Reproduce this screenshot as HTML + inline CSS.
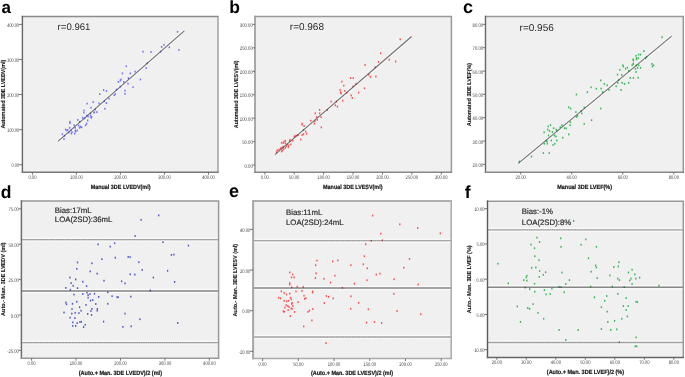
<!DOCTYPE html><html><head><meta charset="utf-8"><style>html,body{margin:0;padding:0;background:#fff;}svg{display:block;will-change:transform;}</style></head><body>
<svg xmlns="http://www.w3.org/2000/svg" width="685" height="377" viewBox="0 0 685 377" font-family='"Liberation Sans", sans-serif' text-rendering="geometricPrecision">
<rect width="685" height="377" fill="#fff"/>
<rect x="22.4" y="16.5" width="195.6" height="155.8" fill="#f0f0f0"/>
<text x="1.4" y="12.9" font-size="17.0" font-weight="bold" fill="#000">a</text>
<rect x="255.0" y="16.4" width="196.4" height="155.8" fill="#f0f0f0"/>
<text x="229.3" y="12.8" font-size="17.5" font-weight="bold" fill="#000">b</text>
<rect x="485.5" y="16.4" width="197.8" height="155.8" fill="#f0f0f0"/>
<text x="462.9" y="13.4" font-size="18.0" font-weight="bold" fill="#000">c</text>
<rect x="21.4" y="201.1" width="197.2" height="157.2" fill="#f0f0f0"/>
<text x="0.8" y="197.7" font-size="17.5" font-weight="bold" fill="#000">d</text>
<rect x="253.1" y="201.1" width="198.1" height="157.5" fill="#f0f0f0"/>
<text x="229.1" y="197.0" font-size="18.0" font-weight="bold" fill="#000">e</text>
<rect x="487.5" y="201.2" width="195.8" height="156.2" fill="#f0f0f0"/>
<text x="464.8" y="197.5" font-size="17.5" font-weight="bold" fill="#000">f</text>
<line x1="57.04" y1="140.42" x2="183.44" y2="29.82" stroke="#fff" stroke-width="0.7" stroke-opacity="0.7"/>
<line x1="58.76" y1="142.38" x2="185.16" y2="31.78" stroke="#fff" stroke-width="0.7" stroke-opacity="0.7"/>
<rect x="90.43" y="106.80" width="1.35" height="1.8" fill="#6c6cff"/>
<rect x="83.23" y="109.60" width="1.35" height="1.8" fill="#6c6cff"/>
<rect x="83.23" y="111.70" width="1.35" height="1.8" fill="#6c6cff"/>
<rect x="93.33" y="111.70" width="1.35" height="1.8" fill="#6c6cff"/>
<rect x="86.13" y="114.70" width="1.35" height="1.8" fill="#6c6cff"/>
<rect x="87.43" y="115.60" width="1.35" height="1.8" fill="#6c6cff"/>
<rect x="89.83" y="114.70" width="1.35" height="1.8" fill="#6c6cff"/>
<rect x="90.93" y="116.00" width="1.35" height="1.8" fill="#6c6cff"/>
<rect x="90.43" y="117.00" width="1.35" height="1.8" fill="#6c6cff"/>
<rect x="81.93" y="116.80" width="1.35" height="1.8" fill="#6c6cff"/>
<rect x="84.03" y="117.40" width="1.35" height="1.8" fill="#6c6cff"/>
<rect x="77.13" y="119.00" width="1.35" height="1.8" fill="#6c6cff"/>
<rect x="78.93" y="120.90" width="1.35" height="1.8" fill="#6c6cff"/>
<rect x="87.03" y="119.50" width="1.35" height="1.8" fill="#6c6cff"/>
<rect x="85.93" y="122.70" width="1.35" height="1.8" fill="#6c6cff"/>
<rect x="84.93" y="124.30" width="1.35" height="1.8" fill="#6c6cff"/>
<rect x="69.23" y="120.90" width="1.35" height="1.8" fill="#6c6cff"/>
<rect x="69.23" y="122.30" width="1.35" height="1.8" fill="#6c6cff"/>
<rect x="73.43" y="124.30" width="1.35" height="1.8" fill="#6c6cff"/>
<rect x="77.93" y="124.80" width="1.35" height="1.8" fill="#6c6cff"/>
<rect x="79.83" y="125.90" width="1.35" height="1.8" fill="#6c6cff"/>
<rect x="81.03" y="126.40" width="1.35" height="1.8" fill="#6c6cff"/>
<rect x="78.93" y="126.90" width="1.35" height="1.8" fill="#6c6cff"/>
<rect x="68.93" y="126.90" width="1.35" height="1.8" fill="#6c6cff"/>
<rect x="74.53" y="126.90" width="1.35" height="1.8" fill="#6c6cff"/>
<rect x="64.93" y="128.70" width="1.35" height="1.8" fill="#6c6cff"/>
<rect x="66.23" y="129.60" width="1.35" height="1.8" fill="#6c6cff"/>
<rect x="67.03" y="129.00" width="1.35" height="1.8" fill="#6c6cff"/>
<rect x="70.23" y="129.60" width="1.35" height="1.8" fill="#6c6cff"/>
<rect x="74.53" y="129.60" width="1.35" height="1.8" fill="#6c6cff"/>
<rect x="76.63" y="129.60" width="1.35" height="1.8" fill="#6c6cff"/>
<rect x="75.03" y="130.60" width="1.35" height="1.8" fill="#6c6cff"/>
<rect x="71.33" y="131.20" width="1.35" height="1.8" fill="#6c6cff"/>
<rect x="68.13" y="131.70" width="1.35" height="1.8" fill="#6c6cff"/>
<rect x="70.73" y="132.70" width="1.35" height="1.8" fill="#6c6cff"/>
<rect x="73.93" y="132.70" width="1.35" height="1.8" fill="#6c6cff"/>
<rect x="61.73" y="133.30" width="1.35" height="1.8" fill="#6c6cff"/>
<rect x="63.83" y="134.90" width="1.35" height="1.8" fill="#6c6cff"/>
<rect x="63.33" y="138.10" width="1.35" height="1.8" fill="#6c6cff"/>
<rect x="127.73" y="77.30" width="1.35" height="1.8" fill="#6c6cff"/>
<rect x="120.33" y="78.60" width="1.35" height="1.8" fill="#6c6cff"/>
<rect x="119.53" y="79.60" width="1.35" height="1.8" fill="#6c6cff"/>
<rect x="117.73" y="81.00" width="1.35" height="1.8" fill="#6c6cff"/>
<rect x="123.03" y="81.00" width="1.35" height="1.8" fill="#6c6cff"/>
<rect x="127.33" y="82.80" width="1.35" height="1.8" fill="#6c6cff"/>
<rect x="119.53" y="85.80" width="1.35" height="1.8" fill="#6c6cff"/>
<rect x="115.83" y="88.70" width="1.35" height="1.8" fill="#6c6cff"/>
<rect x="102.93" y="89.20" width="1.35" height="1.8" fill="#6c6cff"/>
<rect x="105.73" y="90.20" width="1.35" height="1.8" fill="#6c6cff"/>
<rect x="124.33" y="89.80" width="1.35" height="1.8" fill="#6c6cff"/>
<rect x="124.33" y="93.00" width="1.35" height="1.8" fill="#6c6cff"/>
<rect x="114.63" y="93.20" width="1.35" height="1.8" fill="#6c6cff"/>
<rect x="113.53" y="94.30" width="1.35" height="1.8" fill="#6c6cff"/>
<rect x="99.13" y="93.20" width="1.35" height="1.8" fill="#6c6cff"/>
<rect x="108.43" y="97.70" width="1.35" height="1.8" fill="#6c6cff"/>
<rect x="103.63" y="100.40" width="1.35" height="1.8" fill="#6c6cff"/>
<rect x="92.53" y="101.20" width="1.35" height="1.8" fill="#6c6cff"/>
<rect x="98.33" y="102.50" width="1.35" height="1.8" fill="#6c6cff"/>
<rect x="105.73" y="102.20" width="1.35" height="1.8" fill="#6c6cff"/>
<rect x="104.23" y="107.80" width="1.35" height="1.8" fill="#6c6cff"/>
<rect x="94.63" y="108.60" width="1.35" height="1.8" fill="#6c6cff"/>
<rect x="93.53" y="111.40" width="1.35" height="1.8" fill="#6c6cff"/>
<rect x="96.23" y="111.20" width="1.35" height="1.8" fill="#6c6cff"/>
<rect x="89.83" y="112.50" width="1.35" height="1.8" fill="#6c6cff"/>
<rect x="163.33" y="43.90" width="1.35" height="1.8" fill="#6c6cff"/>
<rect x="160.93" y="46.00" width="1.35" height="1.8" fill="#6c6cff"/>
<rect x="159.83" y="50.80" width="1.35" height="1.8" fill="#6c6cff"/>
<rect x="142.33" y="50.80" width="1.35" height="1.8" fill="#6c6cff"/>
<rect x="150.33" y="51.00" width="1.35" height="1.8" fill="#6c6cff"/>
<rect x="146.63" y="62.40" width="1.35" height="1.8" fill="#6c6cff"/>
<rect x="145.53" y="67.20" width="1.35" height="1.8" fill="#6c6cff"/>
<rect x="125.63" y="65.40" width="1.35" height="1.8" fill="#6c6cff"/>
<rect x="134.43" y="70.70" width="1.35" height="1.8" fill="#6c6cff"/>
<rect x="129.63" y="72.50" width="1.35" height="1.8" fill="#6c6cff"/>
<rect x="139.73" y="78.60" width="1.35" height="1.8" fill="#6c6cff"/>
<rect x="132.33" y="86.30" width="1.35" height="1.8" fill="#6c6cff"/>
<rect x="176.83" y="30.90" width="1.35" height="1.8" fill="#6c6cff"/>
<rect x="168.63" y="46.40" width="1.35" height="1.8" fill="#6c6cff"/>
<rect x="178.23" y="49.20" width="1.35" height="1.8" fill="#6c6cff"/>
<rect x="121.73" y="72.50" width="1.35" height="1.8" fill="#6c6cff"/>
<rect x="86.43" y="102.70" width="1.35" height="1.8" fill="#6c6cff"/>
<line x1="57.9" y1="141.4" x2="184.3" y2="30.8" stroke="#303030" stroke-opacity="0.66" stroke-width="1.1"/>
<line x1="21.7" y1="16.5" x2="218.7" y2="16.5" stroke="#8c8c8c" stroke-width="1.5"/>
<line x1="218.0" y1="16.5" x2="218.0" y2="172.3" stroke="#a0a0a0" stroke-width="1.5"/>
<line x1="22.4" y1="15.8" x2="22.4" y2="173.0" stroke="#666" stroke-width="1.4"/>
<line x1="21.7" y1="172.3" x2="218.7" y2="172.3" stroke="#777" stroke-width="1.5"/>
<line x1="18.8" y1="164.70" x2="22.4" y2="164.70" stroke="#666" stroke-width="0.9"/>
<text x="19.0" y="167.20" font-size="5.2" fill="#444" text-anchor="end" transform="translate(19.0,0) scale(0.740,1) translate(-19.0,0)">0.00</text>
<line x1="18.8" y1="129.62" x2="22.4" y2="129.62" stroke="#666" stroke-width="0.9"/>
<text x="19.0" y="132.12" font-size="5.2" fill="#444" text-anchor="end" transform="translate(19.0,0) scale(0.740,1) translate(-19.0,0)">100.00</text>
<line x1="18.8" y1="94.55" x2="22.4" y2="94.55" stroke="#666" stroke-width="0.9"/>
<text x="19.0" y="97.05" font-size="5.2" fill="#444" text-anchor="end" transform="translate(19.0,0) scale(0.740,1) translate(-19.0,0)">200.00</text>
<line x1="18.8" y1="59.48" x2="22.4" y2="59.48" stroke="#666" stroke-width="0.9"/>
<text x="19.0" y="61.98" font-size="5.2" fill="#444" text-anchor="end" transform="translate(19.0,0) scale(0.740,1) translate(-19.0,0)">300.00</text>
<line x1="18.8" y1="24.40" x2="22.4" y2="24.40" stroke="#666" stroke-width="0.9"/>
<text x="19.0" y="26.90" font-size="5.2" fill="#444" text-anchor="end" transform="translate(19.0,0) scale(0.740,1) translate(-19.0,0)">400.00</text>
<line x1="32.45" y1="172.3" x2="32.45" y2="174.7" stroke="#666" stroke-width="0.9"/>
<text x="32.45" y="179.3" font-size="5.2" fill="#444" text-anchor="middle" transform="translate(32.45,0) scale(0.79,1) translate(-32.45,0)">0.00</text>
<line x1="76.46" y1="172.3" x2="76.46" y2="174.7" stroke="#666" stroke-width="0.9"/>
<text x="76.46" y="179.3" font-size="5.2" fill="#444" text-anchor="middle" transform="translate(76.46,0) scale(0.79,1) translate(-76.46,0)">100.00</text>
<line x1="120.48" y1="172.3" x2="120.48" y2="174.7" stroke="#666" stroke-width="0.9"/>
<text x="120.48" y="179.3" font-size="5.2" fill="#444" text-anchor="middle" transform="translate(120.48,0) scale(0.79,1) translate(-120.48,0)">200.00</text>
<line x1="164.49" y1="172.3" x2="164.49" y2="174.7" stroke="#666" stroke-width="0.9"/>
<text x="164.49" y="179.3" font-size="5.2" fill="#444" text-anchor="middle" transform="translate(164.49,0) scale(0.79,1) translate(-164.49,0)">300.00</text>
<line x1="208.50" y1="172.3" x2="208.50" y2="174.7" stroke="#666" stroke-width="0.9"/>
<text x="208.50" y="179.3" font-size="5.2" fill="#444" text-anchor="middle" transform="translate(208.50,0) scale(0.79,1) translate(-208.50,0)">400.00</text>
<text x="90.7" y="189.2" font-size="6.2" font-weight="bold" fill="#1a1a1a" stroke="#1a1a1a" stroke-width="0.22" textLength="59.8" lengthAdjust="spacingAndGlyphs">Manual 3DE LVEDV(ml)</text>
<text x="0" y="0" font-size="5.7" font-weight="bold" fill="#222" stroke="#222" stroke-width="0.12" textLength="68.8" lengthAdjust="spacingAndGlyphs" transform="translate(5.0,128.6) rotate(-90)">Automated 3DE LVEDV(ml)</text>
<line x1="274.05" y1="153.72" x2="410.75" y2="35.52" stroke="#fff" stroke-width="0.7" stroke-opacity="0.7"/>
<line x1="275.75" y1="155.68" x2="412.45" y2="37.48" stroke="#fff" stroke-width="0.7" stroke-opacity="0.7"/>
<rect x="297.43" y="134.10" width="1.35" height="1.8" fill="#ff4c4c"/>
<rect x="296.23" y="134.70" width="1.35" height="1.8" fill="#ff4c4c"/>
<rect x="294.33" y="135.00" width="1.35" height="1.8" fill="#ff4c4c"/>
<rect x="293.63" y="135.80" width="1.35" height="1.8" fill="#ff4c4c"/>
<rect x="292.13" y="139.80" width="1.35" height="1.8" fill="#ff4c4c"/>
<rect x="289.23" y="139.00" width="1.35" height="1.8" fill="#ff4c4c"/>
<rect x="288.93" y="140.20" width="1.35" height="1.8" fill="#ff4c4c"/>
<rect x="284.73" y="139.80" width="1.35" height="1.8" fill="#ff4c4c"/>
<rect x="283.43" y="140.70" width="1.35" height="1.8" fill="#ff4c4c"/>
<rect x="282.63" y="141.90" width="1.35" height="1.8" fill="#ff4c4c"/>
<rect x="280.93" y="141.90" width="1.35" height="1.8" fill="#ff4c4c"/>
<rect x="284.73" y="142.40" width="1.35" height="1.8" fill="#ff4c4c"/>
<rect x="286.73" y="143.60" width="1.35" height="1.8" fill="#ff4c4c"/>
<rect x="290.23" y="143.50" width="1.35" height="1.8" fill="#ff4c4c"/>
<rect x="288.13" y="144.50" width="1.35" height="1.8" fill="#ff4c4c"/>
<rect x="285.63" y="145.30" width="1.35" height="1.8" fill="#ff4c4c"/>
<rect x="287.73" y="146.30" width="1.35" height="1.8" fill="#ff4c4c"/>
<rect x="282.63" y="145.70" width="1.35" height="1.8" fill="#ff4c4c"/>
<rect x="281.33" y="146.60" width="1.35" height="1.8" fill="#ff4c4c"/>
<rect x="280.03" y="147.40" width="1.35" height="1.8" fill="#ff4c4c"/>
<rect x="283.03" y="148.30" width="1.35" height="1.8" fill="#ff4c4c"/>
<rect x="281.73" y="149.60" width="1.35" height="1.8" fill="#ff4c4c"/>
<rect x="280.93" y="150.60" width="1.35" height="1.8" fill="#ff4c4c"/>
<rect x="278.33" y="148.70" width="1.35" height="1.8" fill="#ff4c4c"/>
<rect x="276.53" y="149.40" width="1.35" height="1.8" fill="#ff4c4c"/>
<rect x="275.83" y="151.30" width="1.35" height="1.8" fill="#ff4c4c"/>
<rect x="284.73" y="147.00" width="1.35" height="1.8" fill="#ff4c4c"/>
<rect x="330.43" y="100.70" width="1.35" height="1.8" fill="#ff4c4c"/>
<rect x="326.73" y="109.20" width="1.35" height="1.8" fill="#ff4c4c"/>
<rect x="318.93" y="108.90" width="1.35" height="1.8" fill="#ff4c4c"/>
<rect x="318.93" y="112.40" width="1.35" height="1.8" fill="#ff4c4c"/>
<rect x="314.53" y="112.40" width="1.35" height="1.8" fill="#ff4c4c"/>
<rect x="316.13" y="116.10" width="1.35" height="1.8" fill="#ff4c4c"/>
<rect x="320.33" y="116.30" width="1.35" height="1.8" fill="#ff4c4c"/>
<rect x="316.63" y="119.00" width="1.35" height="1.8" fill="#ff4c4c"/>
<rect x="314.23" y="120.30" width="1.35" height="1.8" fill="#ff4c4c"/>
<rect x="310.03" y="119.80" width="1.35" height="1.8" fill="#ff4c4c"/>
<rect x="313.63" y="122.70" width="1.35" height="1.8" fill="#ff4c4c"/>
<rect x="301.53" y="122.70" width="1.35" height="1.8" fill="#ff4c4c"/>
<rect x="301.23" y="123.70" width="1.35" height="1.8" fill="#ff4c4c"/>
<rect x="303.33" y="125.10" width="1.35" height="1.8" fill="#ff4c4c"/>
<rect x="320.63" y="126.50" width="1.35" height="1.8" fill="#ff4c4c"/>
<rect x="302.83" y="129.00" width="1.35" height="1.8" fill="#ff4c4c"/>
<rect x="304.93" y="130.70" width="1.35" height="1.8" fill="#ff4c4c"/>
<rect x="306.03" y="132.80" width="1.35" height="1.8" fill="#ff4c4c"/>
<rect x="302.83" y="133.30" width="1.35" height="1.8" fill="#ff4c4c"/>
<rect x="301.53" y="134.10" width="1.35" height="1.8" fill="#ff4c4c"/>
<rect x="300.13" y="138.60" width="1.35" height="1.8" fill="#ff4c4c"/>
<rect x="364.33" y="64.10" width="1.35" height="1.8" fill="#ff4c4c"/>
<rect x="368.03" y="73.80" width="1.35" height="1.8" fill="#ff4c4c"/>
<rect x="350.03" y="77.20" width="1.35" height="1.8" fill="#ff4c4c"/>
<rect x="352.63" y="77.20" width="1.35" height="1.8" fill="#ff4c4c"/>
<rect x="341.23" y="80.70" width="1.35" height="1.8" fill="#ff4c4c"/>
<rect x="355.33" y="82.90" width="1.35" height="1.8" fill="#ff4c4c"/>
<rect x="343.13" y="84.70" width="1.35" height="1.8" fill="#ff4c4c"/>
<rect x="352.43" y="85.50" width="1.35" height="1.8" fill="#ff4c4c"/>
<rect x="363.83" y="87.40" width="1.35" height="1.8" fill="#ff4c4c"/>
<rect x="339.43" y="88.90" width="1.35" height="1.8" fill="#ff4c4c"/>
<rect x="344.23" y="90.00" width="1.35" height="1.8" fill="#ff4c4c"/>
<rect x="339.93" y="91.30" width="1.35" height="1.8" fill="#ff4c4c"/>
<rect x="340.43" y="92.70" width="1.35" height="1.8" fill="#ff4c4c"/>
<rect x="346.13" y="91.90" width="1.35" height="1.8" fill="#ff4c4c"/>
<rect x="357.93" y="91.70" width="1.35" height="1.8" fill="#ff4c4c"/>
<rect x="350.53" y="94.50" width="1.35" height="1.8" fill="#ff4c4c"/>
<rect x="351.63" y="97.00" width="1.35" height="1.8" fill="#ff4c4c"/>
<rect x="342.03" y="99.80" width="1.35" height="1.8" fill="#ff4c4c"/>
<rect x="335.73" y="100.60" width="1.35" height="1.8" fill="#ff4c4c"/>
<rect x="334.63" y="104.40" width="1.35" height="1.8" fill="#ff4c4c"/>
<rect x="336.73" y="105.70" width="1.35" height="1.8" fill="#ff4c4c"/>
<rect x="369.73" y="75.90" width="1.35" height="1.8" fill="#ff4c4c"/>
<rect x="375.23" y="75.50" width="1.35" height="1.8" fill="#ff4c4c"/>
<rect x="399.53" y="38.40" width="1.35" height="1.8" fill="#ff4c4c"/>
<rect x="380.03" y="52.40" width="1.35" height="1.8" fill="#ff4c4c"/>
<rect x="388.53" y="58.80" width="1.35" height="1.8" fill="#ff4c4c"/>
<rect x="394.93" y="60.60" width="1.35" height="1.8" fill="#ff4c4c"/>
<rect x="377.93" y="61.10" width="1.35" height="1.8" fill="#ff4c4c"/>
<rect x="374.43" y="66.40" width="1.35" height="1.8" fill="#ff4c4c"/>
<line x1="274.9" y1="154.7" x2="411.6" y2="36.5" stroke="#303030" stroke-opacity="0.66" stroke-width="1.1"/>
<line x1="254.3" y1="16.4" x2="452.1" y2="16.4" stroke="#999" stroke-width="1.5"/>
<line x1="451.4" y1="16.4" x2="451.4" y2="172.2" stroke="#999" stroke-width="1.5"/>
<line x1="255.0" y1="15.7" x2="255.0" y2="172.9" stroke="#a0a0a0" stroke-width="1.8"/>
<line x1="254.3" y1="172.2" x2="452.1" y2="172.2" stroke="#888" stroke-width="1.5"/>
<line x1="252.6" y1="165.10" x2="255.0" y2="165.10" stroke="#666" stroke-width="0.9"/>
<text x="252.8" y="167.60" font-size="5.2" fill="#444" text-anchor="end" transform="translate(252.8,0) scale(0.820,1) translate(-252.8,0)">0.00</text>
<line x1="252.6" y1="141.65" x2="255.0" y2="141.65" stroke="#666" stroke-width="0.9"/>
<text x="252.8" y="144.15" font-size="5.2" fill="#444" text-anchor="end" transform="translate(252.8,0) scale(0.820,1) translate(-252.8,0)">50.00</text>
<line x1="252.6" y1="118.20" x2="255.0" y2="118.20" stroke="#666" stroke-width="0.9"/>
<text x="252.8" y="120.70" font-size="5.2" fill="#444" text-anchor="end" transform="translate(252.8,0) scale(0.820,1) translate(-252.8,0)">100.00</text>
<line x1="252.6" y1="94.75" x2="255.0" y2="94.75" stroke="#666" stroke-width="0.9"/>
<text x="252.8" y="97.25" font-size="5.2" fill="#444" text-anchor="end" transform="translate(252.8,0) scale(0.820,1) translate(-252.8,0)">150.00</text>
<line x1="252.6" y1="71.30" x2="255.0" y2="71.30" stroke="#666" stroke-width="0.9"/>
<text x="252.8" y="73.80" font-size="5.2" fill="#444" text-anchor="end" transform="translate(252.8,0) scale(0.820,1) translate(-252.8,0)">200.00</text>
<line x1="252.6" y1="47.85" x2="255.0" y2="47.85" stroke="#666" stroke-width="0.9"/>
<text x="252.8" y="50.35" font-size="5.2" fill="#444" text-anchor="end" transform="translate(252.8,0) scale(0.820,1) translate(-252.8,0)">250.00</text>
<line x1="252.6" y1="24.40" x2="255.0" y2="24.40" stroke="#666" stroke-width="0.9"/>
<text x="252.8" y="26.90" font-size="5.2" fill="#444" text-anchor="end" transform="translate(252.8,0) scale(0.820,1) translate(-252.8,0)">300.00</text>
<line x1="264.80" y1="172.2" x2="264.80" y2="174.6" stroke="#666" stroke-width="0.9"/>
<text x="264.80" y="179.2" font-size="5.2" fill="#444" text-anchor="middle" transform="translate(264.80,0) scale(0.79,1) translate(-264.80,0)">0.00</text>
<line x1="294.22" y1="172.2" x2="294.22" y2="174.6" stroke="#666" stroke-width="0.9"/>
<text x="294.22" y="179.2" font-size="5.2" fill="#444" text-anchor="middle" transform="translate(294.22,0) scale(0.79,1) translate(-294.22,0)">50.00</text>
<line x1="323.63" y1="172.2" x2="323.63" y2="174.6" stroke="#666" stroke-width="0.9"/>
<text x="323.63" y="179.2" font-size="5.2" fill="#444" text-anchor="middle" transform="translate(323.63,0) scale(0.79,1) translate(-323.63,0)">100.00</text>
<line x1="353.05" y1="172.2" x2="353.05" y2="174.6" stroke="#666" stroke-width="0.9"/>
<text x="353.05" y="179.2" font-size="5.2" fill="#444" text-anchor="middle" transform="translate(353.05,0) scale(0.79,1) translate(-353.05,0)">150.00</text>
<line x1="382.47" y1="172.2" x2="382.47" y2="174.6" stroke="#666" stroke-width="0.9"/>
<text x="382.47" y="179.2" font-size="5.2" fill="#444" text-anchor="middle" transform="translate(382.47,0) scale(0.79,1) translate(-382.47,0)">200.00</text>
<line x1="411.88" y1="172.2" x2="411.88" y2="174.6" stroke="#666" stroke-width="0.9"/>
<text x="411.88" y="179.2" font-size="5.2" fill="#444" text-anchor="middle" transform="translate(411.88,0) scale(0.79,1) translate(-411.88,0)">250.00</text>
<line x1="441.30" y1="172.2" x2="441.30" y2="174.6" stroke="#666" stroke-width="0.9"/>
<text x="441.30" y="179.2" font-size="5.2" fill="#444" text-anchor="middle" transform="translate(441.30,0) scale(0.79,1) translate(-441.30,0)">300.00</text>
<text x="323.1" y="189.2" font-size="6.2" font-weight="bold" fill="#1a1a1a" stroke="#1a1a1a" stroke-width="0.22" textLength="59.4" lengthAdjust="spacingAndGlyphs">Manual 3DE LVESV(ml)</text>
<text x="0" y="0" font-size="5.7" font-weight="bold" fill="#222" stroke="#222" stroke-width="0.12" textLength="67.6" lengthAdjust="spacingAndGlyphs" transform="translate(238.1,128.2) rotate(-90)">Automated 3DE LVESV(ml)</text>
<line x1="517.47" y1="162.40" x2="670.77" y2="35.10" stroke="#fff" stroke-width="0.7" stroke-opacity="0.7"/>
<line x1="519.13" y1="164.40" x2="672.43" y2="37.10" stroke="#fff" stroke-width="0.7" stroke-opacity="0.7"/>
<rect x="549.83" y="124.20" width="1.35" height="1.8" fill="#30b850"/>
<rect x="561.23" y="124.20" width="1.35" height="1.8" fill="#30b850"/>
<rect x="547.43" y="125.50" width="1.35" height="1.8" fill="#30b850"/>
<rect x="563.83" y="127.30" width="1.35" height="1.8" fill="#30b850"/>
<rect x="552.93" y="127.30" width="1.35" height="1.8" fill="#30b850"/>
<rect x="559.53" y="126.30" width="1.35" height="1.8" fill="#30b850"/>
<rect x="547.13" y="128.70" width="1.35" height="1.8" fill="#30b850"/>
<rect x="548.93" y="130.10" width="1.35" height="1.8" fill="#30b850"/>
<rect x="555.63" y="128.70" width="1.35" height="1.8" fill="#30b850"/>
<rect x="556.13" y="129.80" width="1.35" height="1.8" fill="#30b850"/>
<rect x="543.43" y="131.40" width="1.35" height="1.8" fill="#30b850"/>
<rect x="551.73" y="131.20" width="1.35" height="1.8" fill="#30b850"/>
<rect x="547.93" y="134.60" width="1.35" height="1.8" fill="#30b850"/>
<rect x="553.83" y="134.60" width="1.35" height="1.8" fill="#30b850"/>
<rect x="555.33" y="135.60" width="1.35" height="1.8" fill="#30b850"/>
<rect x="562.03" y="136.90" width="1.35" height="1.8" fill="#30b850"/>
<rect x="550.63" y="139.60" width="1.35" height="1.8" fill="#30b850"/>
<rect x="556.13" y="139.60" width="1.35" height="1.8" fill="#30b850"/>
<rect x="545.53" y="139.90" width="1.35" height="1.8" fill="#30b850"/>
<rect x="546.43" y="140.70" width="1.35" height="1.8" fill="#30b850"/>
<rect x="543.63" y="142.80" width="1.35" height="1.8" fill="#30b850"/>
<rect x="546.63" y="142.80" width="1.35" height="1.8" fill="#30b850"/>
<rect x="554.23" y="142.80" width="1.35" height="1.8" fill="#30b850"/>
<rect x="552.43" y="144.10" width="1.35" height="1.8" fill="#30b850"/>
<rect x="518.63" y="160.60" width="1.35" height="1.8" fill="#30b850"/>
<rect x="530.83" y="155.60" width="1.35" height="1.8" fill="#30b850"/>
<rect x="542.73" y="152.20" width="1.35" height="1.8" fill="#30b850"/>
<rect x="548.63" y="152.20" width="1.35" height="1.8" fill="#30b850"/>
<rect x="590.33" y="86.40" width="1.35" height="1.8" fill="#30b850"/>
<rect x="595.63" y="87.80" width="1.35" height="1.8" fill="#30b850"/>
<rect x="586.73" y="91.30" width="1.35" height="1.8" fill="#30b850"/>
<rect x="575.73" y="93.60" width="1.35" height="1.8" fill="#30b850"/>
<rect x="568.03" y="106.40" width="1.35" height="1.8" fill="#30b850"/>
<rect x="569.93" y="107.70" width="1.35" height="1.8" fill="#30b850"/>
<rect x="583.53" y="106.60" width="1.35" height="1.8" fill="#30b850"/>
<rect x="580.53" y="110.10" width="1.35" height="1.8" fill="#30b850"/>
<rect x="575.23" y="111.20" width="1.35" height="1.8" fill="#30b850"/>
<rect x="581.13" y="112.50" width="1.35" height="1.8" fill="#30b850"/>
<rect x="576.83" y="114.90" width="1.35" height="1.8" fill="#30b850"/>
<rect x="575.73" y="115.90" width="1.35" height="1.8" fill="#30b850"/>
<rect x="590.93" y="119.30" width="1.35" height="1.8" fill="#30b850"/>
<rect x="569.73" y="121.40" width="1.35" height="1.8" fill="#30b850"/>
<rect x="583.53" y="123.10" width="1.35" height="1.8" fill="#30b850"/>
<rect x="632.73" y="59.60" width="1.35" height="1.8" fill="#30b850"/>
<rect x="631.43" y="64.40" width="1.35" height="1.8" fill="#30b850"/>
<rect x="632.73" y="63.30" width="1.35" height="1.8" fill="#30b850"/>
<rect x="622.13" y="64.40" width="1.35" height="1.8" fill="#30b850"/>
<rect x="622.73" y="65.70" width="1.35" height="1.8" fill="#30b850"/>
<rect x="626.73" y="66.70" width="1.35" height="1.8" fill="#30b850"/>
<rect x="624.93" y="67.80" width="1.35" height="1.8" fill="#30b850"/>
<rect x="619.23" y="68.90" width="1.35" height="1.8" fill="#30b850"/>
<rect x="628.03" y="69.90" width="1.35" height="1.8" fill="#30b850"/>
<rect x="616.83" y="73.70" width="1.35" height="1.8" fill="#30b850"/>
<rect x="621.03" y="74.00" width="1.35" height="1.8" fill="#30b850"/>
<rect x="629.53" y="77.10" width="1.35" height="1.8" fill="#30b850"/>
<rect x="632.73" y="77.10" width="1.35" height="1.8" fill="#30b850"/>
<rect x="600.13" y="79.50" width="1.35" height="1.8" fill="#30b850"/>
<rect x="617.93" y="79.30" width="1.35" height="1.8" fill="#30b850"/>
<rect x="617.13" y="81.90" width="1.35" height="1.8" fill="#30b850"/>
<rect x="621.43" y="81.90" width="1.35" height="1.8" fill="#30b850"/>
<rect x="623.83" y="83.00" width="1.35" height="1.8" fill="#30b850"/>
<rect x="628.03" y="81.90" width="1.35" height="1.8" fill="#30b850"/>
<rect x="603.63" y="83.00" width="1.35" height="1.8" fill="#30b850"/>
<rect x="606.53" y="84.40" width="1.35" height="1.8" fill="#30b850"/>
<rect x="615.53" y="85.40" width="1.35" height="1.8" fill="#30b850"/>
<rect x="600.53" y="87.70" width="1.35" height="1.8" fill="#30b850"/>
<rect x="608.33" y="89.00" width="1.35" height="1.8" fill="#30b850"/>
<rect x="620.33" y="89.00" width="1.35" height="1.8" fill="#30b850"/>
<rect x="601.93" y="91.10" width="1.35" height="1.8" fill="#30b850"/>
<rect x="643.23" y="50.20" width="1.35" height="1.8" fill="#30b850"/>
<rect x="637.93" y="53.70" width="1.35" height="1.8" fill="#30b850"/>
<rect x="639.83" y="53.70" width="1.35" height="1.8" fill="#30b850"/>
<rect x="635.33" y="54.80" width="1.35" height="1.8" fill="#30b850"/>
<rect x="635.83" y="57.30" width="1.35" height="1.8" fill="#30b850"/>
<rect x="637.73" y="57.30" width="1.35" height="1.8" fill="#30b850"/>
<rect x="635.83" y="58.40" width="1.35" height="1.8" fill="#30b850"/>
<rect x="632.43" y="58.40" width="1.35" height="1.8" fill="#30b850"/>
<rect x="644.83" y="57.30" width="1.35" height="1.8" fill="#30b850"/>
<rect x="645.93" y="55.90" width="1.35" height="1.8" fill="#30b850"/>
<rect x="632.63" y="62.70" width="1.35" height="1.8" fill="#30b850"/>
<rect x="637.93" y="64.40" width="1.35" height="1.8" fill="#30b850"/>
<rect x="635.63" y="64.60" width="1.35" height="1.8" fill="#30b850"/>
<rect x="651.23" y="63.00" width="1.35" height="1.8" fill="#30b850"/>
<rect x="652.83" y="64.40" width="1.35" height="1.8" fill="#30b850"/>
<rect x="651.73" y="65.60" width="1.35" height="1.8" fill="#30b850"/>
<rect x="636.83" y="66.90" width="1.35" height="1.8" fill="#30b850"/>
<rect x="639.83" y="66.90" width="1.35" height="1.8" fill="#30b850"/>
<rect x="634.73" y="68.00" width="1.35" height="1.8" fill="#30b850"/>
<rect x="635.33" y="71.10" width="1.35" height="1.8" fill="#30b850"/>
<rect x="637.43" y="76.80" width="1.35" height="1.8" fill="#30b850"/>
<rect x="661.43" y="36.30" width="1.35" height="1.8" fill="#30b850"/>
<rect x="599.93" y="107.70" width="1.35" height="1.8" fill="#30b850"/>
<rect x="569.43" y="124.30" width="1.35" height="1.8" fill="#30b850"/>
<rect x="565.53" y="127.50" width="1.35" height="1.8" fill="#30b850"/>
<rect x="568.03" y="133.50" width="1.35" height="1.8" fill="#30b850"/>
<line x1="518.3" y1="163.4" x2="671.6" y2="36.1" stroke="#303030" stroke-opacity="0.66" stroke-width="1.1"/>
<line x1="484.8" y1="16.4" x2="684.0" y2="16.4" stroke="#999" stroke-width="1.5"/>
<line x1="683.3" y1="16.4" x2="683.3" y2="172.2" stroke="#999" stroke-width="1.5"/>
<line x1="485.5" y1="15.7" x2="485.5" y2="172.9" stroke="#666" stroke-width="1.4"/>
<line x1="484.8" y1="172.2" x2="684.0" y2="172.2" stroke="#888" stroke-width="1.5"/>
<line x1="482.8" y1="164.40" x2="485.5" y2="164.40" stroke="#666" stroke-width="0.9"/>
<text x="483.0" y="166.90" font-size="5.2" fill="#444" text-anchor="end" transform="translate(483.0,0) scale(0.800,1) translate(-483.0,0)">20.00</text>
<line x1="482.8" y1="141.07" x2="485.5" y2="141.07" stroke="#666" stroke-width="0.9"/>
<text x="483.0" y="143.57" font-size="5.2" fill="#444" text-anchor="end" transform="translate(483.0,0) scale(0.800,1) translate(-483.0,0)">30.00</text>
<line x1="482.8" y1="117.73" x2="485.5" y2="117.73" stroke="#666" stroke-width="0.9"/>
<text x="483.0" y="120.23" font-size="5.2" fill="#444" text-anchor="end" transform="translate(483.0,0) scale(0.800,1) translate(-483.0,0)">40.00</text>
<line x1="482.8" y1="94.40" x2="485.5" y2="94.40" stroke="#666" stroke-width="0.9"/>
<text x="483.0" y="96.90" font-size="5.2" fill="#444" text-anchor="end" transform="translate(483.0,0) scale(0.800,1) translate(-483.0,0)">50.00</text>
<line x1="482.8" y1="71.07" x2="485.5" y2="71.07" stroke="#666" stroke-width="0.9"/>
<text x="483.0" y="73.57" font-size="5.2" fill="#444" text-anchor="end" transform="translate(483.0,0) scale(0.800,1) translate(-483.0,0)">60.00</text>
<line x1="482.8" y1="47.73" x2="485.5" y2="47.73" stroke="#666" stroke-width="0.9"/>
<text x="483.0" y="50.23" font-size="5.2" fill="#444" text-anchor="end" transform="translate(483.0,0) scale(0.800,1) translate(-483.0,0)">70.00</text>
<line x1="482.8" y1="24.40" x2="485.5" y2="24.40" stroke="#666" stroke-width="0.9"/>
<text x="483.0" y="26.90" font-size="5.2" fill="#444" text-anchor="end" transform="translate(483.0,0) scale(0.800,1) translate(-483.0,0)">80.00</text>
<line x1="520.70" y1="172.2" x2="520.70" y2="174.6" stroke="#666" stroke-width="0.9"/>
<text x="520.70" y="179.2" font-size="5.2" fill="#444" text-anchor="middle" transform="translate(520.70,0) scale(0.79,1) translate(-520.70,0)">20.00</text>
<line x1="571.73" y1="172.2" x2="571.73" y2="174.6" stroke="#666" stroke-width="0.9"/>
<text x="571.73" y="179.2" font-size="5.2" fill="#444" text-anchor="middle" transform="translate(571.73,0) scale(0.79,1) translate(-571.73,0)">40.00</text>
<line x1="622.77" y1="172.2" x2="622.77" y2="174.6" stroke="#666" stroke-width="0.9"/>
<text x="622.77" y="179.2" font-size="5.2" fill="#444" text-anchor="middle" transform="translate(622.77,0) scale(0.79,1) translate(-622.77,0)">60.00</text>
<line x1="673.80" y1="172.2" x2="673.80" y2="174.6" stroke="#666" stroke-width="0.9"/>
<text x="673.80" y="179.2" font-size="5.2" fill="#444" text-anchor="middle" transform="translate(673.80,0) scale(0.79,1) translate(-673.80,0)">80.00</text>
<text x="557.2" y="189.2" font-size="6.2" font-weight="bold" fill="#1a1a1a" stroke="#1a1a1a" stroke-width="0.22" textLength="54.9" lengthAdjust="spacingAndGlyphs">Manual 3DE LVEF(%)</text>
<text x="0" y="0" font-size="5.7" font-weight="bold" fill="#222" stroke="#222" stroke-width="0.12" textLength="63.3" lengthAdjust="spacingAndGlyphs" transform="translate(471.0,126.2) rotate(-90)">Automated 3DE LVEF(%)</text>
<line x1="21.4" y1="289.55" x2="218.6" y2="289.55" stroke="#fff" stroke-width="0.9"/>
<line x1="21.4" y1="292.65" x2="218.6" y2="292.65" stroke="#fff" stroke-width="0.9"/>
<line x1="21.4" y1="238.10" x2="218.6" y2="238.10" stroke="#fff" stroke-width="0.8"/>
<line x1="21.4" y1="241.20" x2="218.6" y2="241.20" stroke="#fafafa" stroke-width="0.8"/>
<line x1="21.4" y1="341.10" x2="218.6" y2="341.10" stroke="#fff" stroke-width="0.8"/>
<line x1="21.4" y1="344.20" x2="218.6" y2="344.20" stroke="#fafafa" stroke-width="0.8"/>
<rect x="76.83" y="261.50" width="1.35" height="1.8" fill="#4a55c8"/>
<rect x="91.23" y="262.40" width="1.35" height="1.8" fill="#4a55c8"/>
<rect x="76.13" y="267.90" width="1.35" height="1.8" fill="#4a55c8"/>
<rect x="89.53" y="270.50" width="1.35" height="1.8" fill="#4a55c8"/>
<rect x="69.23" y="276.60" width="1.35" height="1.8" fill="#4a55c8"/>
<rect x="75.03" y="278.50" width="1.35" height="1.8" fill="#4a55c8"/>
<rect x="82.13" y="280.80" width="1.35" height="1.8" fill="#4a55c8"/>
<rect x="70.43" y="282.20" width="1.35" height="1.8" fill="#4a55c8"/>
<rect x="72.53" y="284.90" width="1.35" height="1.8" fill="#4a55c8"/>
<rect x="85.93" y="285.10" width="1.35" height="1.8" fill="#4a55c8"/>
<rect x="65.13" y="287.00" width="1.35" height="1.8" fill="#4a55c8"/>
<rect x="76.83" y="287.20" width="1.35" height="1.8" fill="#4a55c8"/>
<rect x="69.73" y="288.90" width="1.35" height="1.8" fill="#4a55c8"/>
<rect x="73.23" y="293.60" width="1.35" height="1.8" fill="#4a55c8"/>
<rect x="82.13" y="293.10" width="1.35" height="1.8" fill="#4a55c8"/>
<rect x="86.33" y="291.80" width="1.35" height="1.8" fill="#4a55c8"/>
<rect x="89.33" y="293.10" width="1.35" height="1.8" fill="#4a55c8"/>
<rect x="93.83" y="292.80" width="1.35" height="1.8" fill="#4a55c8"/>
<rect x="87.43" y="294.20" width="1.35" height="1.8" fill="#4a55c8"/>
<rect x="87.43" y="296.70" width="1.35" height="1.8" fill="#4a55c8"/>
<rect x="89.83" y="299.70" width="1.35" height="1.8" fill="#4a55c8"/>
<rect x="92.03" y="299.20" width="1.35" height="1.8" fill="#4a55c8"/>
<rect x="76.13" y="300.80" width="1.35" height="1.8" fill="#4a55c8"/>
<rect x="65.13" y="301.60" width="1.35" height="1.8" fill="#4a55c8"/>
<rect x="65.83" y="303.40" width="1.35" height="1.8" fill="#4a55c8"/>
<rect x="71.83" y="302.90" width="1.35" height="1.8" fill="#4a55c8"/>
<rect x="85.33" y="304.00" width="1.35" height="1.8" fill="#4a55c8"/>
<rect x="78.93" y="306.30" width="1.35" height="1.8" fill="#4a55c8"/>
<rect x="71.33" y="308.20" width="1.35" height="1.8" fill="#4a55c8"/>
<rect x="91.23" y="308.00" width="1.35" height="1.8" fill="#4a55c8"/>
<rect x="90.23" y="310.10" width="1.35" height="1.8" fill="#4a55c8"/>
<rect x="80.33" y="309.80" width="1.35" height="1.8" fill="#4a55c8"/>
<rect x="63.33" y="311.60" width="1.35" height="1.8" fill="#4a55c8"/>
<rect x="74.53" y="311.90" width="1.35" height="1.8" fill="#4a55c8"/>
<rect x="78.23" y="312.20" width="1.35" height="1.8" fill="#4a55c8"/>
<rect x="71.13" y="312.70" width="1.35" height="1.8" fill="#4a55c8"/>
<rect x="87.03" y="313.00" width="1.35" height="1.8" fill="#4a55c8"/>
<rect x="90.93" y="314.00" width="1.35" height="1.8" fill="#4a55c8"/>
<rect x="69.43" y="316.70" width="1.35" height="1.8" fill="#4a55c8"/>
<rect x="74.23" y="317.20" width="1.35" height="1.8" fill="#4a55c8"/>
<rect x="72.13" y="321.50" width="1.35" height="1.8" fill="#4a55c8"/>
<rect x="76.43" y="322.20" width="1.35" height="1.8" fill="#4a55c8"/>
<rect x="79.23" y="321.10" width="1.35" height="1.8" fill="#4a55c8"/>
<rect x="80.63" y="320.90" width="1.35" height="1.8" fill="#4a55c8"/>
<rect x="84.53" y="323.90" width="1.35" height="1.8" fill="#4a55c8"/>
<rect x="72.13" y="325.00" width="1.35" height="1.8" fill="#4a55c8"/>
<rect x="75.03" y="325.00" width="1.35" height="1.8" fill="#4a55c8"/>
<rect x="82.93" y="326.20" width="1.35" height="1.8" fill="#4a55c8"/>
<rect x="114.63" y="256.80" width="1.35" height="1.8" fill="#4a55c8"/>
<rect x="127.53" y="256.00" width="1.35" height="1.8" fill="#4a55c8"/>
<rect x="129.53" y="256.30" width="1.35" height="1.8" fill="#4a55c8"/>
<rect x="101.23" y="258.30" width="1.35" height="1.8" fill="#4a55c8"/>
<rect x="96.53" y="272.70" width="1.35" height="1.8" fill="#4a55c8"/>
<rect x="129.53" y="273.40" width="1.35" height="1.8" fill="#4a55c8"/>
<rect x="103.33" y="279.80" width="1.35" height="1.8" fill="#4a55c8"/>
<rect x="120.93" y="280.40" width="1.35" height="1.8" fill="#4a55c8"/>
<rect x="124.33" y="282.50" width="1.35" height="1.8" fill="#4a55c8"/>
<rect x="107.13" y="291.40" width="1.35" height="1.8" fill="#4a55c8"/>
<rect x="98.03" y="296.00" width="1.35" height="1.8" fill="#4a55c8"/>
<rect x="111.43" y="295.30" width="1.35" height="1.8" fill="#4a55c8"/>
<rect x="116.43" y="296.30" width="1.35" height="1.8" fill="#4a55c8"/>
<rect x="117.43" y="296.30" width="1.35" height="1.8" fill="#4a55c8"/>
<rect x="95.13" y="303.10" width="1.35" height="1.8" fill="#4a55c8"/>
<rect x="107.13" y="302.90" width="1.35" height="1.8" fill="#4a55c8"/>
<rect x="96.73" y="308.00" width="1.35" height="1.8" fill="#4a55c8"/>
<rect x="96.53" y="309.80" width="1.35" height="1.8" fill="#4a55c8"/>
<rect x="124.33" y="312.70" width="1.35" height="1.8" fill="#4a55c8"/>
<rect x="102.93" y="320.70" width="1.35" height="1.8" fill="#4a55c8"/>
<rect x="122.23" y="326.00" width="1.35" height="1.8" fill="#4a55c8"/>
<rect x="138.13" y="261.30" width="1.35" height="1.8" fill="#4a55c8"/>
<rect x="141.53" y="269.00" width="1.35" height="1.8" fill="#4a55c8"/>
<rect x="134.13" y="273.70" width="1.35" height="1.8" fill="#4a55c8"/>
<rect x="152.73" y="276.60" width="1.35" height="1.8" fill="#4a55c8"/>
<rect x="149.63" y="289.60" width="1.35" height="1.8" fill="#4a55c8"/>
<rect x="130.13" y="295.70" width="1.35" height="1.8" fill="#4a55c8"/>
<rect x="139.23" y="318.30" width="1.35" height="1.8" fill="#4a55c8"/>
<rect x="130.53" y="325.40" width="1.35" height="1.8" fill="#4a55c8"/>
<rect x="158.03" y="214.50" width="1.35" height="1.8" fill="#4a55c8"/>
<rect x="140.43" y="218.90" width="1.35" height="1.8" fill="#4a55c8"/>
<rect x="134.43" y="235.10" width="1.35" height="1.8" fill="#4a55c8"/>
<rect x="162.33" y="241.30" width="1.35" height="1.8" fill="#4a55c8"/>
<rect x="187.73" y="244.70" width="1.35" height="1.8" fill="#4a55c8"/>
<rect x="170.73" y="254.00" width="1.35" height="1.8" fill="#4a55c8"/>
<rect x="173.23" y="253.70" width="1.35" height="1.8" fill="#4a55c8"/>
<rect x="166.93" y="269.90" width="1.35" height="1.8" fill="#4a55c8"/>
<rect x="173.93" y="281.10" width="1.35" height="1.8" fill="#4a55c8"/>
<rect x="177.03" y="322.00" width="1.35" height="1.8" fill="#4a55c8"/>
<rect x="97.43" y="243.50" width="1.35" height="1.8" fill="#4a55c8"/>
<rect x="109.53" y="245.70" width="1.35" height="1.8" fill="#4a55c8"/>
<rect x="113.93" y="242.30" width="1.35" height="1.8" fill="#4a55c8"/>
<line x1="21.4" y1="291.05" x2="218.6" y2="291.05" stroke="#303030" stroke-opacity="0.55" stroke-width="1.5"/>
<line x1="21.4" y1="239.60" x2="218.6" y2="239.60" stroke="#303030" stroke-opacity="0.32" stroke-width="1.3"/>
<line x1="21.4" y1="239.60" x2="218.6" y2="239.60" stroke="#303030" stroke-opacity="0.22" stroke-width="1.1" stroke-dasharray="1.2 1.1"/>
<line x1="21.4" y1="342.60" x2="218.6" y2="342.60" stroke="#303030" stroke-opacity="0.32" stroke-width="1.3"/>
<line x1="21.4" y1="342.60" x2="218.6" y2="342.60" stroke="#303030" stroke-opacity="0.22" stroke-width="1.1" stroke-dasharray="1.2 1.1"/>
<line x1="20.7" y1="201.1" x2="219.3" y2="201.1" stroke="#999" stroke-width="1.5"/>
<line x1="218.6" y1="201.1" x2="218.6" y2="358.3" stroke="#999" stroke-width="1.5"/>
<line x1="21.4" y1="200.4" x2="21.4" y2="359.0" stroke="#6e6e6e" stroke-width="1.5"/>
<line x1="20.7" y1="358.3" x2="219.3" y2="358.3" stroke="#999" stroke-width="1.5"/>
<line x1="18.7" y1="350.40" x2="21.4" y2="350.40" stroke="#666" stroke-width="0.9"/>
<text x="18.9" y="352.90" font-size="5.2" fill="#444" text-anchor="end" transform="translate(18.9,0) scale(0.800,1) translate(-18.9,0)">-25.00</text>
<line x1="18.7" y1="315.00" x2="21.4" y2="315.00" stroke="#666" stroke-width="0.9"/>
<text x="18.9" y="317.50" font-size="5.2" fill="#444" text-anchor="end" transform="translate(18.9,0) scale(0.800,1) translate(-18.9,0)">0.00</text>
<line x1="18.7" y1="279.60" x2="21.4" y2="279.60" stroke="#666" stroke-width="0.9"/>
<text x="18.9" y="282.10" font-size="5.2" fill="#444" text-anchor="end" transform="translate(18.9,0) scale(0.800,1) translate(-18.9,0)">25.00</text>
<line x1="18.7" y1="244.20" x2="21.4" y2="244.20" stroke="#666" stroke-width="0.9"/>
<text x="18.9" y="246.70" font-size="5.2" fill="#444" text-anchor="end" transform="translate(18.9,0) scale(0.800,1) translate(-18.9,0)">50.00</text>
<line x1="18.7" y1="208.80" x2="21.4" y2="208.80" stroke="#666" stroke-width="0.9"/>
<text x="18.9" y="211.30" font-size="5.2" fill="#444" text-anchor="end" transform="translate(18.9,0) scale(0.800,1) translate(-18.9,0)">75.00</text>
<line x1="31.60" y1="358.3" x2="31.60" y2="360.7" stroke="#666" stroke-width="0.9"/>
<text x="31.60" y="364.9" font-size="5.2" fill="#444" text-anchor="middle" transform="translate(31.60,0) scale(0.79,1) translate(-31.60,0)">0.00</text>
<line x1="76.05" y1="358.3" x2="76.05" y2="360.7" stroke="#666" stroke-width="0.9"/>
<text x="76.05" y="364.9" font-size="5.2" fill="#444" text-anchor="middle" transform="translate(76.05,0) scale(0.79,1) translate(-76.05,0)">100.00</text>
<line x1="120.50" y1="358.3" x2="120.50" y2="360.7" stroke="#666" stroke-width="0.9"/>
<text x="120.50" y="364.9" font-size="5.2" fill="#444" text-anchor="middle" transform="translate(120.50,0) scale(0.79,1) translate(-120.50,0)">200.00</text>
<line x1="164.95" y1="358.3" x2="164.95" y2="360.7" stroke="#666" stroke-width="0.9"/>
<text x="164.95" y="364.9" font-size="5.2" fill="#444" text-anchor="middle" transform="translate(164.95,0) scale(0.79,1) translate(-164.95,0)">300.00</text>
<line x1="209.40" y1="358.3" x2="209.40" y2="360.7" stroke="#666" stroke-width="0.9"/>
<text x="209.40" y="364.9" font-size="5.2" fill="#444" text-anchor="middle" transform="translate(209.40,0) scale(0.79,1) translate(-209.40,0)">400.00</text>
<text x="78.7" y="374.5" font-size="6.2" font-weight="bold" fill="#1a1a1a" stroke="#1a1a1a" stroke-width="0.22" textLength="83.3" lengthAdjust="spacingAndGlyphs">(Auto.+ Man. 3DE LVEDV)/2  (ml)</text>
<text x="0" y="0" font-size="5.7" font-weight="bold" fill="#222" stroke="#222" stroke-width="0.12" textLength="73.5" lengthAdjust="spacingAndGlyphs" transform="translate(5.3,315.9) rotate(-90)">Auto.- Man. 3DE LVEDV  (ml)</text>
<line x1="253.1" y1="286.60" x2="451.2" y2="286.60" stroke="#fff" stroke-width="0.9"/>
<line x1="253.1" y1="289.70" x2="451.2" y2="289.70" stroke="#fff" stroke-width="0.9"/>
<line x1="253.1" y1="239.20" x2="451.2" y2="239.20" stroke="#fff" stroke-width="0.8"/>
<line x1="253.1" y1="242.30" x2="451.2" y2="242.30" stroke="#fafafa" stroke-width="0.8"/>
<line x1="253.1" y1="335.50" x2="451.2" y2="335.50" stroke="#fff" stroke-width="0.8"/>
<line x1="253.1" y1="338.60" x2="451.2" y2="338.60" stroke="#fafafa" stroke-width="0.8"/>
<rect x="289.03" y="271.50" width="1.35" height="1.8" fill="#ff4a4a"/>
<rect x="292.03" y="273.60" width="1.35" height="1.8" fill="#ff4a4a"/>
<rect x="290.83" y="276.50" width="1.35" height="1.8" fill="#ff4a4a"/>
<rect x="293.43" y="276.50" width="1.35" height="1.8" fill="#ff4a4a"/>
<rect x="289.03" y="282.20" width="1.35" height="1.8" fill="#ff4a4a"/>
<rect x="289.03" y="283.70" width="1.35" height="1.8" fill="#ff4a4a"/>
<rect x="291.03" y="286.40" width="1.35" height="1.8" fill="#ff4a4a"/>
<rect x="296.53" y="285.80" width="1.35" height="1.8" fill="#ff4a4a"/>
<rect x="302.53" y="286.10" width="1.35" height="1.8" fill="#ff4a4a"/>
<rect x="280.63" y="290.40" width="1.35" height="1.8" fill="#ff4a4a"/>
<rect x="295.33" y="290.60" width="1.35" height="1.8" fill="#ff4a4a"/>
<rect x="301.33" y="290.00" width="1.35" height="1.8" fill="#ff4a4a"/>
<rect x="283.43" y="292.00" width="1.35" height="1.8" fill="#ff4a4a"/>
<rect x="285.83" y="293.60" width="1.35" height="1.8" fill="#ff4a4a"/>
<rect x="289.03" y="292.70" width="1.35" height="1.8" fill="#ff4a4a"/>
<rect x="303.33" y="294.80" width="1.35" height="1.8" fill="#ff4a4a"/>
<rect x="277.93" y="296.80" width="1.35" height="1.8" fill="#ff4a4a"/>
<rect x="279.83" y="297.50" width="1.35" height="1.8" fill="#ff4a4a"/>
<rect x="289.83" y="296.80" width="1.35" height="1.8" fill="#ff4a4a"/>
<rect x="290.63" y="298.40" width="1.35" height="1.8" fill="#ff4a4a"/>
<rect x="305.13" y="297.20" width="1.35" height="1.8" fill="#ff4a4a"/>
<rect x="303.93" y="298.00" width="1.35" height="1.8" fill="#ff4a4a"/>
<rect x="283.43" y="299.90" width="1.35" height="1.8" fill="#ff4a4a"/>
<rect x="286.03" y="300.40" width="1.35" height="1.8" fill="#ff4a4a"/>
<rect x="287.83" y="299.90" width="1.35" height="1.8" fill="#ff4a4a"/>
<rect x="297.43" y="301.30" width="1.35" height="1.8" fill="#ff4a4a"/>
<rect x="291.43" y="301.90" width="1.35" height="1.8" fill="#ff4a4a"/>
<rect x="291.03" y="303.10" width="1.35" height="1.8" fill="#ff4a4a"/>
<rect x="285.43" y="304.30" width="1.35" height="1.8" fill="#ff4a4a"/>
<rect x="287.23" y="305.20" width="1.35" height="1.8" fill="#ff4a4a"/>
<rect x="288.43" y="306.10" width="1.35" height="1.8" fill="#ff4a4a"/>
<rect x="292.23" y="305.20" width="1.35" height="1.8" fill="#ff4a4a"/>
<rect x="284.23" y="306.70" width="1.35" height="1.8" fill="#ff4a4a"/>
<rect x="290.63" y="307.50" width="1.35" height="1.8" fill="#ff4a4a"/>
<rect x="291.43" y="307.90" width="1.35" height="1.8" fill="#ff4a4a"/>
<rect x="287.43" y="309.10" width="1.35" height="1.8" fill="#ff4a4a"/>
<rect x="282.73" y="310.30" width="1.35" height="1.8" fill="#ff4a4a"/>
<rect x="283.63" y="310.90" width="1.35" height="1.8" fill="#ff4a4a"/>
<rect x="293.83" y="311.10" width="1.35" height="1.8" fill="#ff4a4a"/>
<rect x="307.33" y="310.90" width="1.35" height="1.8" fill="#ff4a4a"/>
<rect x="308.73" y="309.70" width="1.35" height="1.8" fill="#ff4a4a"/>
<rect x="289.63" y="315.20" width="1.35" height="1.8" fill="#ff4a4a"/>
<rect x="312.13" y="308.10" width="1.35" height="1.8" fill="#ff4a4a"/>
<rect x="311.23" y="319.50" width="1.35" height="1.8" fill="#ff4a4a"/>
<rect x="303.03" y="325.50" width="1.35" height="1.8" fill="#ff4a4a"/>
<rect x="314.93" y="264.30" width="1.35" height="1.8" fill="#ff4a4a"/>
<rect x="350.23" y="264.30" width="1.35" height="1.8" fill="#ff4a4a"/>
<rect x="315.43" y="272.40" width="1.35" height="1.8" fill="#ff4a4a"/>
<rect x="334.23" y="274.70" width="1.35" height="1.8" fill="#ff4a4a"/>
<rect x="314.73" y="277.10" width="1.35" height="1.8" fill="#ff4a4a"/>
<rect x="323.23" y="277.90" width="1.35" height="1.8" fill="#ff4a4a"/>
<rect x="329.83" y="281.60" width="1.35" height="1.8" fill="#ff4a4a"/>
<rect x="353.73" y="282.70" width="1.35" height="1.8" fill="#ff4a4a"/>
<rect x="341.73" y="286.90" width="1.35" height="1.8" fill="#ff4a4a"/>
<rect x="311.93" y="290.60" width="1.35" height="1.8" fill="#ff4a4a"/>
<rect x="311.93" y="291.50" width="1.35" height="1.8" fill="#ff4a4a"/>
<rect x="325.73" y="295.10" width="1.35" height="1.8" fill="#ff4a4a"/>
<rect x="327.93" y="295.90" width="1.35" height="1.8" fill="#ff4a4a"/>
<rect x="332.43" y="297.50" width="1.35" height="1.8" fill="#ff4a4a"/>
<rect x="350.23" y="295.40" width="1.35" height="1.8" fill="#ff4a4a"/>
<rect x="323.63" y="302.10" width="1.35" height="1.8" fill="#ff4a4a"/>
<rect x="316.23" y="259.70" width="1.35" height="1.8" fill="#ff4a4a"/>
<rect x="332.03" y="260.50" width="1.35" height="1.8" fill="#ff4a4a"/>
<rect x="337.13" y="259.50" width="1.35" height="1.8" fill="#ff4a4a"/>
<rect x="371.93" y="214.70" width="1.35" height="1.8" fill="#ff4a4a"/>
<rect x="399.13" y="223.40" width="1.35" height="1.8" fill="#ff4a4a"/>
<rect x="380.13" y="232.70" width="1.35" height="1.8" fill="#ff4a4a"/>
<rect x="370.53" y="239.90" width="1.35" height="1.8" fill="#ff4a4a"/>
<rect x="381.63" y="239.40" width="1.35" height="1.8" fill="#ff4a4a"/>
<rect x="365.03" y="243.30" width="1.35" height="1.8" fill="#ff4a4a"/>
<rect x="363.63" y="255.30" width="1.35" height="1.8" fill="#ff4a4a"/>
<rect x="408.83" y="258.00" width="1.35" height="1.8" fill="#ff4a4a"/>
<rect x="362.63" y="263.40" width="1.35" height="1.8" fill="#ff4a4a"/>
<rect x="366.63" y="267.40" width="1.35" height="1.8" fill="#ff4a4a"/>
<rect x="403.13" y="266.70" width="1.35" height="1.8" fill="#ff4a4a"/>
<rect x="375.63" y="273.70" width="1.35" height="1.8" fill="#ff4a4a"/>
<rect x="379.23" y="272.70" width="1.35" height="1.8" fill="#ff4a4a"/>
<rect x="393.43" y="278.30" width="1.35" height="1.8" fill="#ff4a4a"/>
<rect x="366.33" y="279.30" width="1.35" height="1.8" fill="#ff4a4a"/>
<rect x="393.13" y="292.90" width="1.35" height="1.8" fill="#ff4a4a"/>
<rect x="357.93" y="301.90" width="1.35" height="1.8" fill="#ff4a4a"/>
<rect x="417.03" y="227.00" width="1.35" height="1.8" fill="#ff4a4a"/>
<rect x="439.63" y="232.50" width="1.35" height="1.8" fill="#ff4a4a"/>
<rect x="417.53" y="283.60" width="1.35" height="1.8" fill="#ff4a4a"/>
<rect x="350.03" y="307.80" width="1.35" height="1.8" fill="#ff4a4a"/>
<rect x="367.63" y="308.40" width="1.35" height="1.8" fill="#ff4a4a"/>
<rect x="396.33" y="310.00" width="1.35" height="1.8" fill="#ff4a4a"/>
<rect x="420.13" y="313.30" width="1.35" height="1.8" fill="#ff4a4a"/>
<rect x="365.93" y="321.70" width="1.35" height="1.8" fill="#ff4a4a"/>
<rect x="373.83" y="321.00" width="1.35" height="1.8" fill="#ff4a4a"/>
<rect x="380.93" y="322.10" width="1.35" height="1.8" fill="#ff4a4a"/>
<rect x="325.33" y="342.20" width="1.35" height="1.8" fill="#ff4a4a"/>
<line x1="253.1" y1="288.10" x2="451.2" y2="288.10" stroke="#303030" stroke-opacity="0.55" stroke-width="1.5"/>
<line x1="253.1" y1="240.70" x2="451.2" y2="240.70" stroke="#303030" stroke-opacity="0.32" stroke-width="1.3"/>
<line x1="253.1" y1="240.70" x2="451.2" y2="240.70" stroke="#303030" stroke-opacity="0.22" stroke-width="1.1" stroke-dasharray="1.2 1.1"/>
<line x1="253.1" y1="337.00" x2="451.2" y2="337.00" stroke="#303030" stroke-opacity="0.32" stroke-width="1.3"/>
<line x1="253.1" y1="337.00" x2="451.2" y2="337.00" stroke="#303030" stroke-opacity="0.22" stroke-width="1.1" stroke-dasharray="1.2 1.1"/>
<line x1="252.4" y1="201.1" x2="451.9" y2="201.1" stroke="#999" stroke-width="1.5"/>
<line x1="451.2" y1="201.1" x2="451.2" y2="358.6" stroke="#aaa" stroke-width="1.5"/>
<line x1="253.1" y1="200.4" x2="253.1" y2="359.3" stroke="#a6a6a6" stroke-width="2.0"/>
<line x1="252.4" y1="358.6" x2="451.9" y2="358.6" stroke="#aaa" stroke-width="1.5"/>
<line x1="250.1" y1="351.40" x2="253.1" y2="351.40" stroke="#666" stroke-width="0.9"/>
<text x="250.3" y="353.90" font-size="5.2" fill="#444" text-anchor="end" transform="translate(250.3,0) scale(0.800,1) translate(-250.3,0)">-20.00</text>
<line x1="250.1" y1="310.73" x2="253.1" y2="310.73" stroke="#666" stroke-width="0.9"/>
<text x="250.3" y="313.23" font-size="5.2" fill="#444" text-anchor="end" transform="translate(250.3,0) scale(0.800,1) translate(-250.3,0)">0.00</text>
<line x1="250.1" y1="270.07" x2="253.1" y2="270.07" stroke="#666" stroke-width="0.9"/>
<text x="250.3" y="272.57" font-size="5.2" fill="#444" text-anchor="end" transform="translate(250.3,0) scale(0.800,1) translate(-250.3,0)">20.00</text>
<line x1="250.1" y1="229.40" x2="253.1" y2="229.40" stroke="#666" stroke-width="0.9"/>
<text x="250.3" y="231.90" font-size="5.2" fill="#444" text-anchor="end" transform="translate(250.3,0) scale(0.800,1) translate(-250.3,0)">40.00</text>
<line x1="262.60" y1="358.6" x2="262.60" y2="361.0" stroke="#666" stroke-width="0.9"/>
<text x="262.60" y="365.8" font-size="5.2" fill="#444" text-anchor="middle" transform="translate(262.60,0) scale(0.79,1) translate(-262.60,0)">0.00</text>
<line x1="298.32" y1="358.6" x2="298.32" y2="361.0" stroke="#666" stroke-width="0.9"/>
<text x="298.32" y="365.8" font-size="5.2" fill="#444" text-anchor="middle" transform="translate(298.32,0) scale(0.79,1) translate(-298.32,0)">50.00</text>
<line x1="334.04" y1="358.6" x2="334.04" y2="361.0" stroke="#666" stroke-width="0.9"/>
<text x="334.04" y="365.8" font-size="5.2" fill="#444" text-anchor="middle" transform="translate(334.04,0) scale(0.79,1) translate(-334.04,0)">100.00</text>
<line x1="369.76" y1="358.6" x2="369.76" y2="361.0" stroke="#666" stroke-width="0.9"/>
<text x="369.76" y="365.8" font-size="5.2" fill="#444" text-anchor="middle" transform="translate(369.76,0) scale(0.79,1) translate(-369.76,0)">150.00</text>
<line x1="405.48" y1="358.6" x2="405.48" y2="361.0" stroke="#666" stroke-width="0.9"/>
<text x="405.48" y="365.8" font-size="5.2" fill="#444" text-anchor="middle" transform="translate(405.48,0) scale(0.79,1) translate(-405.48,0)">200.00</text>
<line x1="441.20" y1="358.6" x2="441.20" y2="361.0" stroke="#666" stroke-width="0.9"/>
<text x="441.20" y="365.8" font-size="5.2" fill="#444" text-anchor="middle" transform="translate(441.20,0) scale(0.79,1) translate(-441.20,0)">250.00</text>
<text x="310.9" y="375.2" font-size="6.2" font-weight="bold" fill="#1a1a1a" stroke="#1a1a1a" stroke-width="0.22" textLength="82.1" lengthAdjust="spacingAndGlyphs">(Auto.+ Man. 3DE LVESV)/2  (ml)</text>
<text x="0" y="0" font-size="5.7" font-weight="bold" fill="#222" stroke="#222" stroke-width="0.12" textLength="72.6" lengthAdjust="spacingAndGlyphs" transform="translate(237.0,316.4) rotate(-90)">Auto.- Man. 3DE LVESV  (ml)</text>
<line x1="487.5" y1="285.80" x2="683.3" y2="285.80" stroke="#fff" stroke-width="0.9"/>
<line x1="487.5" y1="288.90" x2="683.3" y2="288.90" stroke="#fff" stroke-width="0.9"/>
<line x1="487.5" y1="228.30" x2="683.3" y2="228.30" stroke="#fff" stroke-width="0.8"/>
<line x1="487.5" y1="231.40" x2="683.3" y2="231.40" stroke="#fafafa" stroke-width="0.8"/>
<line x1="487.5" y1="341.00" x2="683.3" y2="341.00" stroke="#fff" stroke-width="0.8"/>
<line x1="487.5" y1="344.10" x2="683.3" y2="344.10" stroke="#fafafa" stroke-width="0.8"/>
<rect x="536.23" y="236.70" width="1.35" height="1.8" fill="#30b850"/>
<rect x="538.93" y="241.00" width="1.35" height="1.8" fill="#30b850"/>
<rect x="530.33" y="243.70" width="1.35" height="1.8" fill="#30b850"/>
<rect x="533.83" y="247.40" width="1.35" height="1.8" fill="#30b850"/>
<rect x="534.13" y="255.30" width="1.35" height="1.8" fill="#30b850"/>
<rect x="538.33" y="259.30" width="1.35" height="1.8" fill="#30b850"/>
<rect x="497.23" y="262.80" width="1.35" height="1.8" fill="#30b850"/>
<rect x="531.03" y="266.90" width="1.35" height="1.8" fill="#30b850"/>
<rect x="535.13" y="266.50" width="1.35" height="1.8" fill="#30b850"/>
<rect x="538.93" y="270.10" width="1.35" height="1.8" fill="#30b850"/>
<rect x="542.63" y="273.90" width="1.35" height="1.8" fill="#30b850"/>
<rect x="538.63" y="276.00" width="1.35" height="1.8" fill="#30b850"/>
<rect x="526.23" y="274.90" width="1.35" height="1.8" fill="#30b850"/>
<rect x="525.53" y="276.50" width="1.35" height="1.8" fill="#30b850"/>
<rect x="523.03" y="279.20" width="1.35" height="1.8" fill="#30b850"/>
<rect x="526.23" y="279.70" width="1.35" height="1.8" fill="#30b850"/>
<rect x="507.63" y="282.40" width="1.35" height="1.8" fill="#30b850"/>
<rect x="533.83" y="282.80" width="1.35" height="1.8" fill="#30b850"/>
<rect x="524.63" y="286.70" width="1.35" height="1.8" fill="#30b850"/>
<rect x="529.03" y="288.20" width="1.35" height="1.8" fill="#30b850"/>
<rect x="534.13" y="290.80" width="1.35" height="1.8" fill="#30b850"/>
<rect x="543.73" y="289.20" width="1.35" height="1.8" fill="#30b850"/>
<rect x="532.53" y="303.20" width="1.35" height="1.8" fill="#30b850"/>
<rect x="516.63" y="305.60" width="1.35" height="1.8" fill="#30b850"/>
<rect x="527.13" y="307.20" width="1.35" height="1.8" fill="#30b850"/>
<rect x="529.03" y="307.90" width="1.35" height="1.8" fill="#30b850"/>
<rect x="537.33" y="311.90" width="1.35" height="1.8" fill="#30b850"/>
<rect x="543.03" y="317.80" width="1.35" height="1.8" fill="#30b850"/>
<rect x="519.83" y="321.00" width="1.35" height="1.8" fill="#30b850"/>
<rect x="560.03" y="237.40" width="1.35" height="1.8" fill="#30b850"/>
<rect x="585.13" y="238.50" width="1.35" height="1.8" fill="#30b850"/>
<rect x="580.33" y="243.80" width="1.35" height="1.8" fill="#30b850"/>
<rect x="560.33" y="245.90" width="1.35" height="1.8" fill="#30b850"/>
<rect x="587.83" y="257.30" width="1.35" height="1.8" fill="#30b850"/>
<rect x="544.93" y="271.30" width="1.35" height="1.8" fill="#30b850"/>
<rect x="561.23" y="271.60" width="1.35" height="1.8" fill="#30b850"/>
<rect x="590.53" y="270.80" width="1.35" height="1.8" fill="#30b850"/>
<rect x="568.73" y="279.20" width="1.35" height="1.8" fill="#30b850"/>
<rect x="565.13" y="283.10" width="1.35" height="1.8" fill="#30b850"/>
<rect x="558.43" y="285.90" width="1.35" height="1.8" fill="#30b850"/>
<rect x="560.33" y="286.20" width="1.35" height="1.8" fill="#30b850"/>
<rect x="589.93" y="285.60" width="1.35" height="1.8" fill="#30b850"/>
<rect x="551.23" y="287.70" width="1.35" height="1.8" fill="#30b850"/>
<rect x="563.53" y="291.30" width="1.35" height="1.8" fill="#30b850"/>
<rect x="545.33" y="293.50" width="1.35" height="1.8" fill="#30b850"/>
<rect x="549.63" y="293.20" width="1.35" height="1.8" fill="#30b850"/>
<rect x="593.73" y="296.40" width="1.35" height="1.8" fill="#30b850"/>
<rect x="558.43" y="329.00" width="1.35" height="1.8" fill="#30b850"/>
<rect x="577.53" y="329.00" width="1.35" height="1.8" fill="#30b850"/>
<rect x="565.13" y="339.00" width="1.35" height="1.8" fill="#30b850"/>
<rect x="595.73" y="245.90" width="1.35" height="1.8" fill="#30b850"/>
<rect x="618.23" y="261.30" width="1.35" height="1.8" fill="#30b850"/>
<rect x="594.93" y="264.50" width="1.35" height="1.8" fill="#30b850"/>
<rect x="595.73" y="266.50" width="1.35" height="1.8" fill="#30b850"/>
<rect x="613.13" y="266.10" width="1.35" height="1.8" fill="#30b850"/>
<rect x="617.63" y="265.60" width="1.35" height="1.8" fill="#30b850"/>
<rect x="631.43" y="268.80" width="1.35" height="1.8" fill="#30b850"/>
<rect x="627.83" y="271.60" width="1.35" height="1.8" fill="#30b850"/>
<rect x="634.13" y="273.50" width="1.35" height="1.8" fill="#30b850"/>
<rect x="609.23" y="274.50" width="1.35" height="1.8" fill="#30b850"/>
<rect x="596.53" y="277.20" width="1.35" height="1.8" fill="#30b850"/>
<rect x="617.13" y="277.70" width="1.35" height="1.8" fill="#30b850"/>
<rect x="618.73" y="279.20" width="1.35" height="1.8" fill="#30b850"/>
<rect x="630.33" y="277.70" width="1.35" height="1.8" fill="#30b850"/>
<rect x="629.03" y="279.60" width="1.35" height="1.8" fill="#30b850"/>
<rect x="635.13" y="277.70" width="1.35" height="1.8" fill="#30b850"/>
<rect x="638.93" y="276.70" width="1.35" height="1.8" fill="#30b850"/>
<rect x="631.43" y="283.10" width="1.35" height="1.8" fill="#30b850"/>
<rect x="611.63" y="285.60" width="1.35" height="1.8" fill="#30b850"/>
<rect x="623.53" y="286.20" width="1.35" height="1.8" fill="#30b850"/>
<rect x="617.13" y="292.90" width="1.35" height="1.8" fill="#30b850"/>
<rect x="606.03" y="295.10" width="1.35" height="1.8" fill="#30b850"/>
<rect x="625.53" y="297.20" width="1.35" height="1.8" fill="#30b850"/>
<rect x="603.93" y="299.90" width="1.35" height="1.8" fill="#30b850"/>
<rect x="635.43" y="300.90" width="1.35" height="1.8" fill="#30b850"/>
<rect x="636.73" y="301.20" width="1.35" height="1.8" fill="#30b850"/>
<rect x="622.73" y="305.20" width="1.35" height="1.8" fill="#30b850"/>
<rect x="627.53" y="305.20" width="1.35" height="1.8" fill="#30b850"/>
<rect x="600.73" y="306.30" width="1.35" height="1.8" fill="#30b850"/>
<rect x="625.53" y="309.10" width="1.35" height="1.8" fill="#30b850"/>
<rect x="606.53" y="310.70" width="1.35" height="1.8" fill="#30b850"/>
<rect x="626.73" y="315.50" width="1.35" height="1.8" fill="#30b850"/>
<rect x="621.13" y="317.90" width="1.35" height="1.8" fill="#30b850"/>
<rect x="613.93" y="319.90" width="1.35" height="1.8" fill="#30b850"/>
<rect x="607.13" y="321.10" width="1.35" height="1.8" fill="#30b850"/>
<rect x="600.73" y="328.20" width="1.35" height="1.8" fill="#30b850"/>
<rect x="610.03" y="329.00" width="1.35" height="1.8" fill="#30b850"/>
<rect x="616.03" y="328.50" width="1.35" height="1.8" fill="#30b850"/>
<rect x="635.43" y="336.50" width="1.35" height="1.8" fill="#30b850"/>
<rect x="618.73" y="341.20" width="1.35" height="1.8" fill="#30b850"/>
<rect x="658.23" y="284.70" width="1.35" height="1.8" fill="#30b850"/>
<rect x="572.93" y="220.00" width="1.35" height="1.8" fill="#30b850"/>
<rect x="634.53" y="345.40" width="1.35" height="1.8" fill="#30b850"/>
<rect x="635.93" y="345.40" width="1.35" height="1.8" fill="#30b850"/>
<line x1="487.5" y1="287.30" x2="683.3" y2="287.30" stroke="#303030" stroke-opacity="0.55" stroke-width="1.5"/>
<line x1="487.5" y1="229.80" x2="683.3" y2="229.80" stroke="#303030" stroke-opacity="0.32" stroke-width="1.3"/>
<line x1="487.5" y1="229.80" x2="683.3" y2="229.80" stroke="#303030" stroke-opacity="0.22" stroke-width="1.1" stroke-dasharray="1.2 1.1"/>
<line x1="487.5" y1="342.50" x2="683.3" y2="342.50" stroke="#303030" stroke-opacity="0.32" stroke-width="1.3"/>
<line x1="487.5" y1="342.50" x2="683.3" y2="342.50" stroke="#303030" stroke-opacity="0.22" stroke-width="1.1" stroke-dasharray="1.2 1.1"/>
<line x1="486.8" y1="201.2" x2="684.0" y2="201.2" stroke="#999" stroke-width="1.5"/>
<line x1="683.3" y1="201.2" x2="683.3" y2="357.4" stroke="#999" stroke-width="1.5"/>
<line x1="487.5" y1="200.5" x2="487.5" y2="358.1" stroke="#585858" stroke-width="1.4"/>
<line x1="486.8" y1="357.4" x2="684.0" y2="357.4" stroke="#666" stroke-width="1.5"/>
<line x1="484.2" y1="349.70" x2="487.5" y2="349.70" stroke="#666" stroke-width="0.9"/>
<text x="484.4" y="352.20" font-size="5.2" fill="#444" text-anchor="end" transform="translate(484.4,0) scale(0.770,1) translate(-484.4,0)">-10.00</text>
<line x1="484.2" y1="314.45" x2="487.5" y2="314.45" stroke="#666" stroke-width="0.9"/>
<text x="484.4" y="316.95" font-size="5.2" fill="#444" text-anchor="end" transform="translate(484.4,0) scale(0.770,1) translate(-484.4,0)">-5.00</text>
<line x1="484.2" y1="279.20" x2="487.5" y2="279.20" stroke="#666" stroke-width="0.9"/>
<text x="484.4" y="281.70" font-size="5.2" fill="#444" text-anchor="end" transform="translate(484.4,0) scale(0.770,1) translate(-484.4,0)">0.00</text>
<line x1="484.2" y1="243.95" x2="487.5" y2="243.95" stroke="#666" stroke-width="0.9"/>
<text x="484.4" y="246.45" font-size="5.2" fill="#444" text-anchor="end" transform="translate(484.4,0) scale(0.770,1) translate(-484.4,0)">5.00</text>
<line x1="484.2" y1="208.70" x2="487.5" y2="208.70" stroke="#666" stroke-width="0.9"/>
<text x="484.4" y="211.20" font-size="5.2" fill="#444" text-anchor="end" transform="translate(484.4,0) scale(0.770,1) translate(-484.4,0)">10.00</text>
<line x1="496.80" y1="357.4" x2="496.80" y2="359.8" stroke="#666" stroke-width="0.9"/>
<text x="496.80" y="364.0" font-size="5.2" fill="#444" text-anchor="middle" transform="translate(496.80,0) scale(0.79,1) translate(-496.80,0)">20.00</text>
<line x1="526.30" y1="357.4" x2="526.30" y2="359.8" stroke="#666" stroke-width="0.9"/>
<text x="526.30" y="364.0" font-size="5.2" fill="#444" text-anchor="middle" transform="translate(526.30,0) scale(0.79,1) translate(-526.30,0)">30.00</text>
<line x1="555.80" y1="357.4" x2="555.80" y2="359.8" stroke="#666" stroke-width="0.9"/>
<text x="555.80" y="364.0" font-size="5.2" fill="#444" text-anchor="middle" transform="translate(555.80,0) scale(0.79,1) translate(-555.80,0)">40.00</text>
<line x1="585.30" y1="357.4" x2="585.30" y2="359.8" stroke="#666" stroke-width="0.9"/>
<text x="585.30" y="364.0" font-size="5.2" fill="#444" text-anchor="middle" transform="translate(585.30,0) scale(0.79,1) translate(-585.30,0)">50.00</text>
<line x1="614.80" y1="357.4" x2="614.80" y2="359.8" stroke="#666" stroke-width="0.9"/>
<text x="614.80" y="364.0" font-size="5.2" fill="#444" text-anchor="middle" transform="translate(614.80,0) scale(0.79,1) translate(-614.80,0)">60.00</text>
<line x1="644.30" y1="357.4" x2="644.30" y2="359.8" stroke="#666" stroke-width="0.9"/>
<text x="644.30" y="364.0" font-size="5.2" fill="#444" text-anchor="middle" transform="translate(644.30,0) scale(0.79,1) translate(-644.30,0)">70.00</text>
<line x1="673.80" y1="357.4" x2="673.80" y2="359.8" stroke="#666" stroke-width="0.9"/>
<text x="673.80" y="364.0" font-size="5.2" fill="#444" text-anchor="middle" transform="translate(673.80,0) scale(0.79,1) translate(-673.80,0)">80.00</text>
<text x="546.8" y="373.9" font-size="6.2" font-weight="bold" fill="#1a1a1a" stroke="#1a1a1a" stroke-width="0.22" textLength="77.3" lengthAdjust="spacingAndGlyphs">(Auto.+ Man. 3DE LVEF)/2  (%)</text>
<text x="0" y="0" font-size="5.7" font-weight="bold" fill="#222" stroke="#222" stroke-width="0.12" textLength="68.0" lengthAdjust="spacingAndGlyphs" transform="translate(471.0,313.3) rotate(-90)">Auto.- Man. 3DE LVEF  (%)</text>
<text x="57.6" y="30.2" font-size="9.6" fill="#2a2a2a">r=0.961</text>
<text x="289.8" y="29.9" font-size="10" fill="#2a2a2a">r=0.968</text>
<text x="519.6" y="31.4" font-size="10" fill="#2a2a2a">r=0.956</text>
<text x="54.8" y="212.6" font-size="7.8" fill="#2a2a2a" stroke="#2a2a2a" stroke-width="0.18">Bias:17mL</text>
<text x="54.8" y="221.7" font-size="7.8" fill="#2a2a2a" stroke="#2a2a2a" stroke-width="0.18">LOA(2SD):36mL</text>
<text x="286.0" y="214.7" font-size="7.8" fill="#2a2a2a" stroke="#2a2a2a" stroke-width="0.18">Bias:11mL</text>
<text x="286.0" y="224.9" font-size="7.8" fill="#2a2a2a" stroke="#2a2a2a" stroke-width="0.18">LOA(2SD):24mL</text>
<text x="521.8" y="214.4" font-size="7.8" fill="#2a2a2a" stroke="#2a2a2a" stroke-width="0.18">Bias:-1%</text>
<text x="521.8" y="224.5" font-size="7.8" fill="#2a2a2a" stroke="#2a2a2a" stroke-width="0.18">LOA(2SD):8%</text>
</svg></body></html>
